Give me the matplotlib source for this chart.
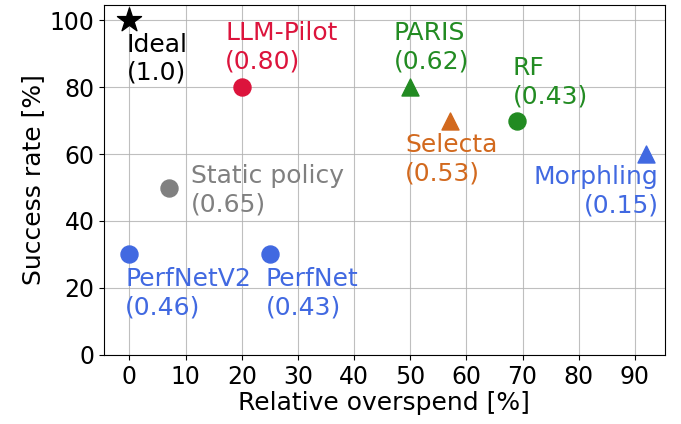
import matplotlib
matplotlib.use("Agg")
import matplotlib.pyplot as plt

names = ["Ideal", "LLM-Pilot", "PARIS", "Selecta", "RF", "Morphling", "Static policy", "PerfNetV2", "PerfNet"]
scores = ["1.0", "0.80", "0.62", "0.53", "0.43", "0.15", "0.65", "0.46", "0.43"]
overspend = [0, 20, 50, 57, 69, 92, 7, 0, 25]
success = [100, 80, 80, 70, 70, 60, 50, 30, 30]
markers = ["*", "o", "^", "^", "o", "^", "o", "o", "o"]
colors = ["black", "crimson", "forestgreen", "chocolate", "forestgreen", "royalblue", "gray", "royalblue", "royalblue"]
sizes = [330, 150, 150, 150, 150, 150, 150, 150, 150]
# label offsets in points and alignments
offsets = [(-2, -9), (-12, 10), (-12, 10), (-32, -9), (-3, 9), (9, -8), (16, -2), (-3, -9), (-3, -9)]
has = ["left", "left", "left", "left", "left", "right", "left", "left", "left"]
vas = ["top", "bottom", "bottom", "top", "bottom", "top", "center", "top", "top"]

fig = plt.figure(figsize=(6.81, 4.24), dpi=100)
ax = fig.add_axes([0.153, 0.163, 0.823, 0.825])
ax.grid(True, color="#b0b0b0", linewidth=0.8, alpha=0.8)
ax.set_axisbelow(True)

for n, s, x, y, m, c, sz, off, ha, va in zip(names, scores, overspend, success, markers, colors, sizes, offsets, has, vas):
    ax.scatter([x], [y], marker=m, color=c, s=sz, zorder=3)
    ax.annotate(f"{n}\n({s})", (x, y), xytext=off, textcoords="offset points",
                ha=ha, va=va, multialignment=ha, color=c, fontsize=18, linespacing=1.22)

ax.set_xlim(-4.5, 95.3)
ax.set_ylim(0, 104.5)
ax.set_xticks(range(0, 100, 10))
ax.set_yticks(range(0, 101, 20))
ax.tick_params(labelsize=17)
ax.set_xlabel("Relative overspend [%]", fontsize=18, labelpad=2)
ax.set_ylabel("Success rate [%]", fontsize=18, labelpad=3)

fig.savefig("out.png", dpi=100)
